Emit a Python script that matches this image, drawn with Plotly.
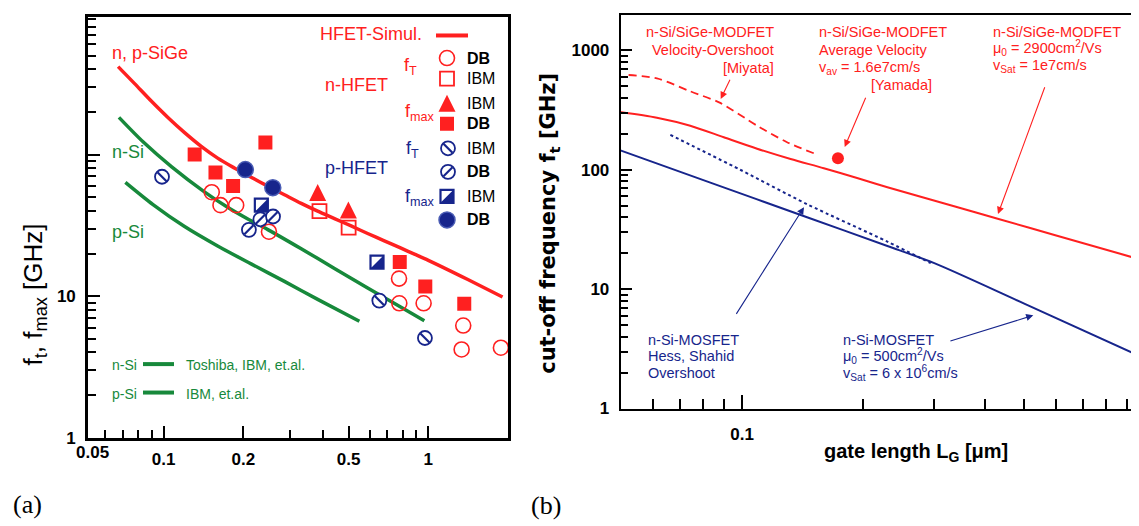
import numpy as np
import plotly.graph_objects as go

W, H = 1139, 526
RED = "#ff2020"
NAVY = "#17258c"
GREEN = "#17893b"
SANS = "Liberation Sans, Arial, sans-serif"
DEJA = "DejaVu Sans, sans-serif"
SERIF = "Liberation Serif, Times New Roman, serif"

# ---------------- panel (a) data ----------------
hfet_x = [0.0673, 0.0777, 0.0898, 0.1038, 0.120, 0.1387, 0.160, 0.185, 0.214, 0.2475, 0.286,
          0.331, 0.382, 0.442, 0.511, 0.590, 0.682, 0.789, 0.886, 1.0, 1.41, 1.907]
hfet_y = [418, 317, 238.8, 182.8, 142.9, 114.3, 94.4, 80.4, 69.2, 59.8, 52.0,
          45.2, 39.8, 35.3, 31.3, 27.7, 24.6, 21.8, 19.8, 17.9, 13.1, 9.86]
nsi_x = [0.0678, 0.0836, 0.107, 0.143, 0.175, 0.208, 0.2475, 0.331, 0.442, 0.590, 0.789, 0.966]
nsi_y = [183, 123, 82.2, 54.3, 42.3, 35.1, 29.5, 21.6, 15.7, 11.4, 8.34, 6.71]
psi_x = [0.0717, 0.0912, 0.120, 0.160, 0.214, 0.286, 0.382, 0.549]
psi_y = [63.6, 44.3, 31.0, 22.6, 16.9, 12.7, 9.48, 6.64]

nft_db_x = [0.152, 0.164, 0.188, 0.250, 0.775, 0.777, 0.96, 1.355, 1.336, 1.88]
nft_db_y = [54.2, 43.9, 43.9, 28.5, 13.3, 8.9, 8.9, 6.2, 4.2, 4.32]
nft_ibm_x = [0.388, 0.50]
nft_ibm_y = [39.9, 30.5]
nfmax_ibm_x = [0.382, 0.499]
nfmax_ibm_y = [54.2, 40.7]
nfmax_db_x = [0.131, 0.157, 0.183, 0.2424, 0.780, 0.974, 1.367]
nfmax_db_y = [100, 74.6, 60, 121.7, 17.4, 11.7, 8.83]
pft_ibm_x = [0.0986, 0.653, 0.971]
pft_ibm_y = [69.7, 9.3, 5.06]
pft_db_x = [0.210, 0.232, 0.259]
pft_db_y = [29.4, 34.9, 36.5]
pfmax_ibm_x = [0.234, 0.640]
pfmax_ibm_y = [43.9, 17.4]
pfmax_db_x = [0.2036, 0.2585]
pfmax_db_y = [78.3, 58.4]

# ---------------- panel (b) data ----------------
modfet_x = [0.0497, 0.0615, 0.0744, 0.0901, 0.109, 0.132, 0.1596, 0.193, 0.2295, 0.336, 0.431, 0.596, 1.01]
modfet_y = [305, 273, 234, 187, 150, 123, 103, 85.3, 71.4, 49.4, 38.9, 28.4, 17.1]
overshoot_x = [0.0523, 0.0615, 0.0744, 0.0883, 0.109, 0.129, 0.151]
overshoot_y = [622, 583, 454, 363, 234, 171, 137]
yamada_x = [0.173]
yamada_y = [125]
mosfet_x = [0.0497, 0.0818, 0.145, 0.2295, 0.30, 0.5, 1.02]
mosfet_y = [146, 80, 40, 23, 16.5, 7.6, 2.55]
hess_x = [0.0664, 0.099, 0.145, 0.2295, 0.294]
hess_y = [196, 100, 51.5, 25, 16.5]

# ---------------- layout geometry (pixels) ----------------
A_L, A_R, A_T, A_B = 80, 500, 9, 438
B_L, B_R, B_T, B_B = 612.7, 1139, 7.3, 408.3
A_XR = [np.log10(0.0518), np.log10(2.0)]
A_YR = [0, 2.973]
B_XR = [np.log10(0.05), 0.005]
B_YR = [0, 3.295]
A_DEC_X = (A_R - A_L) / (A_XR[1] - A_XR[0])
A_DEC_Y = (A_B - A_T) / (A_YR[1] - A_YR[0])

fig = go.Figure()


def line(x, y, color, width, dash="solid", xa="x", ya="y"):
    fig.add_trace(go.Scatter(x=x, y=y, mode="lines", xaxis=xa, yaxis=ya,
                             line=dict(color=color, width=width, dash=dash, shape="spline", smoothing=0.8),
                             hoverinfo="skip"))


def mk(x, y, symbol, size, color, lw=1.6, lc=None, xa="x", ya="y"):
    fig.add_trace(go.Scatter(x=x, y=y, mode="markers", xaxis=xa, yaxis=ya,
                             marker=dict(symbol=symbol, size=size, color=color,
                                         line=dict(width=lw, color=lc or color)),
                             hoverinfo="skip"))


# panel (a) curves
line(nsi_x, nsi_y, GREEN, 3.5)
line(psi_x, psi_y, GREEN, 3.5)
line(hfet_x, hfet_y, RED, 3.5)


def draw_set(sets, xa, ya, log=True):
    (fdb, fibm, tibm, sqdb, bsl, fsl, half, bdot) = sets
    sh_half = 13 / 6.0
    tri_size = 17
    if log:
        half_tx = [v * 10 ** (sh_half / A_DEC_X) for v in half[0]]
        half_ty = [v * 10 ** (-sh_half / A_DEC_Y) for v in half[1]]
        tri_y = [v * 10 ** (tri_size / 2 / A_DEC_Y) for v in tibm[1]]
    else:
        half_tx = [v + sh_half for v in half[0]]
        half_ty = [v + sh_half for v in half[1]]
        tri_y = [v - tri_size / 2 for v in tibm[1]]
    mk(fdb[0], fdb[1], "circle-open", 15, RED, 1.6, xa=xa, ya=ya)
    mk(fibm[0], fibm[1], "square-open", 14, RED, 1.8, xa=xa, ya=ya)
    mk(tibm[0], tri_y, "arrow-up", tri_size, RED, 0, xa=xa, ya=ya)
    mk(sqdb[0], sqdb[1], "square", 14, RED, 0, xa=xa, ya=ya)
    mk(bsl[0], bsl[1], "circle", 14, "white", 1.8, NAVY, xa=xa, ya=ya)
    mk(bsl[0], bsl[1], "line-nw-open", 9, NAVY, 2.2, xa=xa, ya=ya)
    mk(fsl[0], fsl[1], "circle", 14, "white", 1.8, NAVY, xa=xa, ya=ya)
    mk(fsl[0], fsl[1], "line-ne-open", 9, NAVY, 2.2, xa=xa, ya=ya)
    mk(half[0], half[1], "square", 13, "white", 0, xa=xa, ya=ya)
    mk(half_tx, half_ty, "triangle-se", 13 / 0.9, NAVY, 0, xa=xa, ya=ya)
    mk(half[0], half[1], "square-open", 13, NAVY, 2.2, xa=xa, ya=ya)
    mk(bdot[0], bdot[1], "circle", 16, NAVY, 1.5, "#4a5cb4", xa=xa, ya=ya)


draw_set(((nft_db_x, nft_db_y), (nft_ibm_x, nft_ibm_y), (nfmax_ibm_x, nfmax_ibm_y),
          (nfmax_db_x, nfmax_db_y), (pft_ibm_x, pft_ibm_y), (pft_db_x, pft_db_y),
          (pfmax_ibm_x, pfmax_ibm_y), (pfmax_db_x, pfmax_db_y)), "x", "y")

# panel (b) curves
line(overshoot_x, overshoot_y, RED, 1.8, dash="8px,5px", xa="x2", ya="y2")
line(modfet_x, modfet_y, RED, 2, xa="x2", ya="y2")
line(hess_x, hess_y, NAVY, 2, dash="dot", xa="x2", ya="y2")
line(mosfet_x, mosfet_y, NAVY, 2, xa="x2", ya="y2")
mk(yamada_x, yamada_y, "circle", 12, RED, 0, xa="x2", ya="y2")

# legend of panel (a) in pixel overlay
LX = 439
leg_rows = [51, 72, 97, 118, 143, 167, 192, 216]
draw_set((([LX], [leg_rows[0]]), ([LX], [leg_rows[1]]), ([LX], [leg_rows[2]]), ([LX], [leg_rows[3]]),
          ([LX + 1], [leg_rows[4]]), ([LX + 1], [leg_rows[5]]), ([LX], [leg_rows[6]]), ([LX], [leg_rows[7]])),
         "x3", "y3", log=False)
fig.add_trace(go.Scatter(x=[428, 460], y=[28, 28], mode="lines", xaxis="x3", yaxis="y3",
                         line=dict(color=RED, width=4), hoverinfo="skip"))
fig.add_trace(go.Scatter(x=[135, 166], y=[363, 363], mode="lines", xaxis="x3", yaxis="y3",
                         line=dict(color=GREEN, width=4), hoverinfo="skip"))
fig.add_trace(go.Scatter(x=[135, 166], y=[392, 392], mode="lines", xaxis="x3", yaxis="y3",
                         line=dict(color=GREEN, width=4), hoverinfo="skip"))

ann = []


def txt(x, y, s, size, color="black", xanchor="center", family=SANS, weight="normal", angle=0):
    ann.append(dict(x=x, y=y, xref="x3", yref="y3", text=s, showarrow=False, xanchor=xanchor,
                    yanchor="middle", textangle=angle,
                    font=dict(family=family, size=size, color=color, weight=weight)))


def arrow(tx, ty, fx, fy, color):
    ann.append(dict(x=tx, y=ty, xref="x3", yref="y3", ax=fx, ay=fy, axref="x3", ayref="y3",
                    text="", showarrow=True, arrowhead=2, arrowsize=1.3, arrowwidth=1.1,
                    arrowcolor=color))


# panel (a) texts
txt(363, 27, "HFET-Simul.", 18, RED)
txt(102, 46, "n, p-SiGe", 18, RED, "left")
txt(348, 78, "n-HFET", 18, RED)
txt(348, 163, "p-HFET", 18, NAVY)
txt(102, 147, "n-Si", 18, GREEN, "left")
txt(102, 228, "p-Si", 18, GREEN, "left")
txt(102, 364, "n-Si", 14, GREEN, "left")
txt(176, 364, "Toshiba, IBM, et.al.", 14, GREEN, "left")
txt(102, 393, "p-Si", 14, GREEN, "left")
txt(176, 393, "IBM, et.al.", 14, GREEN, "left")
txt(402, 60, "f<sub>T</sub>", 18, RED)
txt(412, 107, "f<sub>max</sub>", 18, RED)
txt(404, 144, "f<sub>T</sub>", 18, NAVY)
txt(412, 193, "f<sub>max</sub>", 18, NAVY)
leg_lbl = ["DB", "IBM", "IBM", "DB", "IBM", "DB", "IBM", "DB"]
for r, s in zip(leg_rows, leg_lbl):
    txt(457, r, s, 16, "black", "left", weight="bold" if s == "DB" else "normal")
txt(84, 453, "0.05", 17, "black", weight="bold")
txt(26, 292, "f<sub>t</sub>, f<sub>max</sub> [GHz]", 26, "black", angle=-90)
txt(19, 506, "(a)", 26, "black", family=SERIF)
txt(538, 507, "(b)", 26, "black", family=SERIF)

# panel (b) texts
RS = 14.5
for s, y in [("n-Si/SiGe-MODFET", 24), ("Velocity-Overshoot", 43), ("[Miyata]", 61)]:
    txt(768, y, s, RS, RED, "right")
for s, y in [("n-Si/SiGe-MODFET", 24), ("Average Velocity", 43), ("v<sub>av</sub> = 1.6e7cm/s", 61)]:
    txt(809, y, s, RS, RED, "left")
txt(926, 78, "[Yamada]", RS, RED, "right")
for s, y in [("n-Si/SiGe-MODFET", 24), ("μ<sub>0</sub> = 2900cm<sup>2</sup>/Vs", 41),
             ("v<sub>Sat</sub> = 1e7cm/s", 59)]:
    txt(983, y, s, RS, RED, "left")
for s, y in [("n-Si-MOSFET", 338), ("Hess, Shahid", 355), ("Overshoot", 372)]:
    txt(638, y, s, RS, NAVY, "left")
for s, y in [("n-Si-MOSFET", 338), ("μ<sub>0</sub> = 500cm<sup>2</sup>/Vs", 355),
             ("v<sub>Sat</sub> = 6 x 10<sup>6</sup>cm/s", 372)]:
    txt(833, y, s, RS, NAVY, "left")
txt(541, 220, "cut-off frequency f<sub>t</sub> [GHz]", 21, "black", family=DEJA, weight="bold", angle=-90)
txt(908, 453, "gate length L<sub>G</sub> [μm]", 20, "black", weight="bold")

arrow(712.7, 92.7, 722.7, 71.7, RED)
arrow(836.7, 141.7, 858.3, 90, RED)
arrow(990, 210, 1037.3, 79.3, RED)
arrow(796, 203, 727.4, 313.3, NAVY)
arrow(1025.3, 313.3, 940.9, 340, NAVY)

# axes
tickf = dict(family=SANS, size=17, color="black", weight="bold")


def minor_vals(decades, digits=range(2, 10)):
    return [d * 10 ** e for e in decades for d in digits]


axA_common = dict(type="log", showline=True, linecolor="black", mirror=True, ticks="inside",
                  tickcolor="black", showgrid=False, zeroline=False, tickfont=tickf)
fig.update_layout(
    width=W, height=H, margin=dict(l=0, r=0, t=0, b=0),
    paper_bgcolor="white", plot_bgcolor="rgba(0,0,0,0)", showlegend=False,
    xaxis=dict(axA_common, domain=[A_L / W, A_R / W], range=A_XR, anchor="y", linewidth=2.6,
               tickvals=[0.1, 0.2, 0.5, 1], ticktext=["0.1", "0.2", "0.5", "1"], ticklen=12,
               tickwidth=1.5, ticklabelstandoff=4,
               minor=dict(tickvals=[0.06, 0.07, 0.08, 0.09, 0.3, 0.4, 0.6, 0.7, 0.8, 0.9],
                          ticks="inside", ticklen=8, tickwidth=1.5, tickcolor="black", showgrid=False)),
    yaxis=dict(axA_common, domain=[1 - A_B / H, 1 - A_T / H], range=A_YR, anchor="x", linewidth=2.6,
               tickvals=[1, 10, 100], ticktext=["1", "10", ""], ticklen=12, tickwidth=1.5,
               ticklabelstandoff=6,
               minor=dict(tickvals=minor_vals([0, 1, 2]), ticks="inside", ticklen=8, tickwidth=1.5,
                          tickcolor="black", showgrid=False)),
    xaxis2=dict(type="log", domain=[B_L / W, B_R / W], range=B_XR, anchor="y2", showline=True,
                linecolor="black", linewidth=2, mirror=True, ticks="inside", tickcolor="black",
                ticklen=14, tickwidth=1.5, showgrid=False, zeroline=False, tickfont=tickf,
                tickvals=[0.1, 1], ticktext=["0.1", "1"], ticklabelstandoff=9,
                minor=dict(tickvals=[0.06, 0.07, 0.08, 0.09] + [d / 10 for d in range(2, 10)],
                           ticks="inside", ticklen=10, tickwidth=1.5, tickcolor="black", showgrid=False)),
    yaxis2=dict(type="log", domain=[1 - B_B / H, 1 - B_T / H], range=B_YR, anchor="x2", showline=True,
                linecolor="black", linewidth=2, ticks="inside", tickcolor="black", ticklen=11,
                tickwidth=1.5, showgrid=False, zeroline=False, tickfont=tickf,
                tickvals=[1, 10, 100, 1000], ticktext=["1", "10", "100", "1000"], ticklabelstandoff=6,
                minor=dict(tickvals=minor_vals([0, 1, 2]), ticks="inside", ticklen=7, tickwidth=1.5,
                           tickcolor="black", showgrid=False)),
    xaxis3=dict(domain=[0, 1], range=[0, W], anchor="y3", visible=False, fixedrange=True),
    yaxis3=dict(domain=[0, 1], range=[H, 0], anchor="x3", visible=False, fixedrange=True),
    annotations=ann,
)

fig.write_html("out.html")
